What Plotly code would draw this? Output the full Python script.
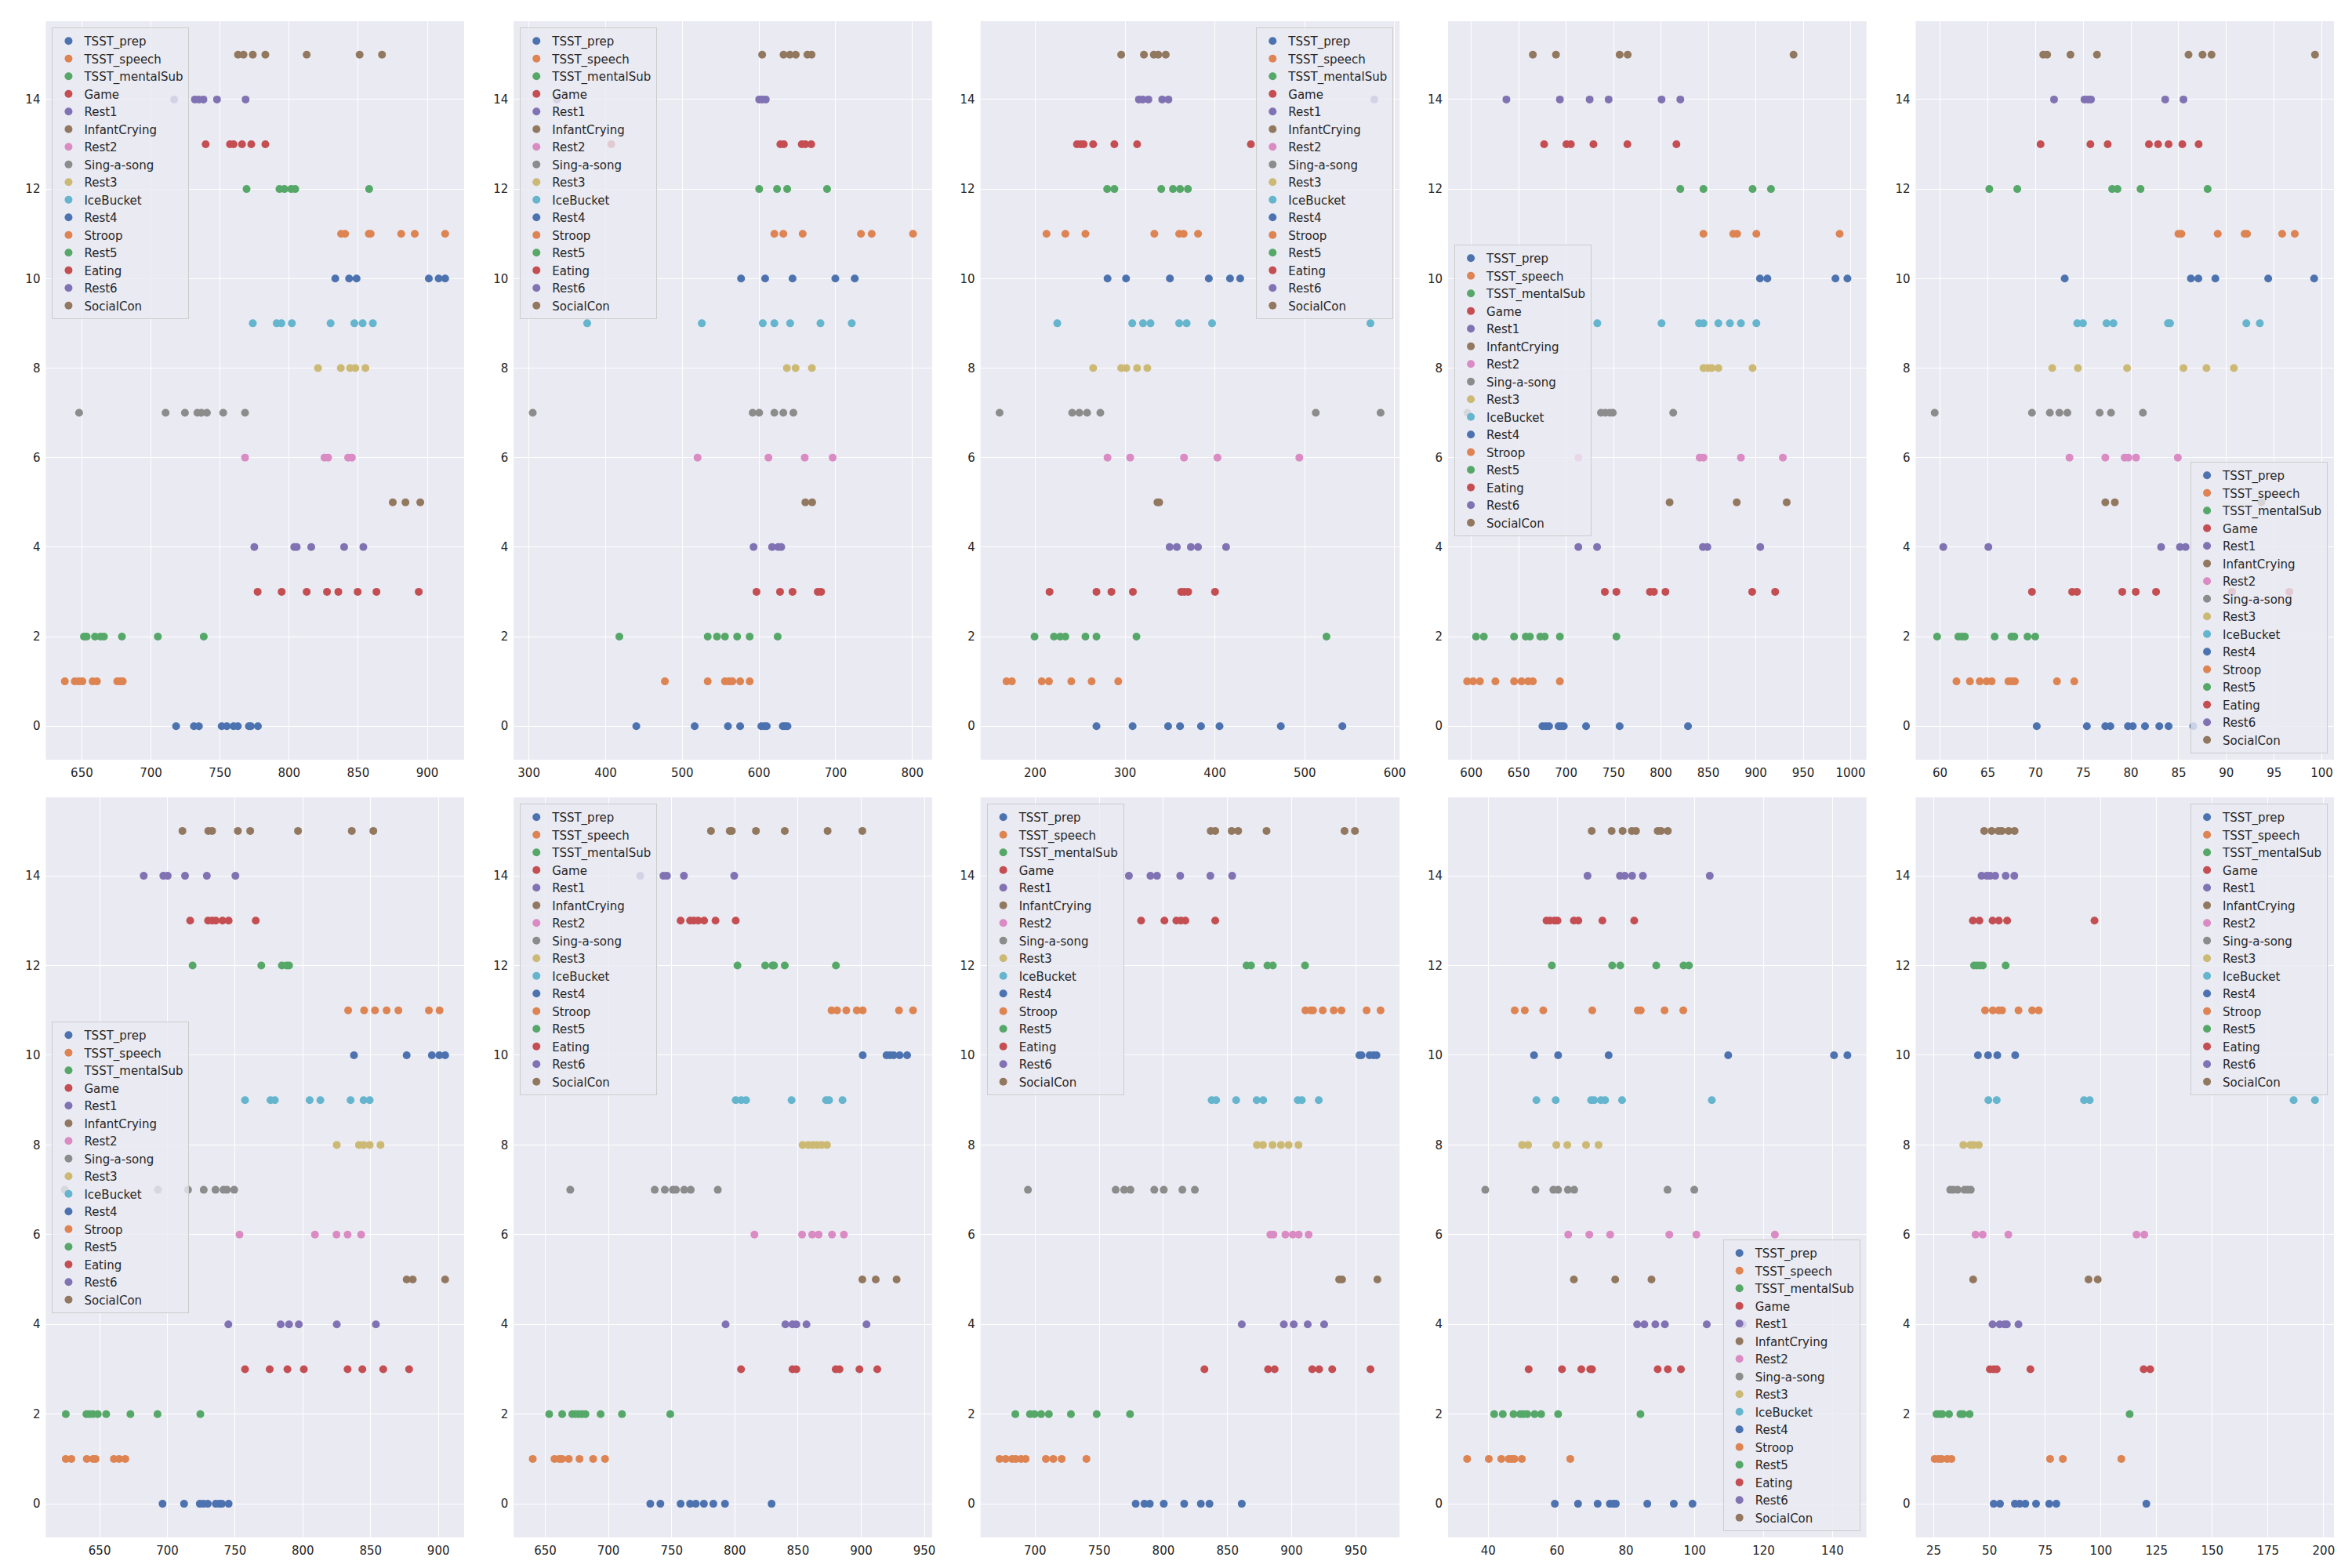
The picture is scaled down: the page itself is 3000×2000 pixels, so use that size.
import plotly.graph_objects as go
from plotly.subplots import make_subplots

categories = ['TSST_prep', 'TSST_speech', 'TSST_mentalSub', 'Game', 'Rest1', 'InfantCrying',
              'Rest2', 'Sing-a-song', 'Rest3', 'IceBucket', 'Rest4', 'Stroop', 'Rest5',
              'Eating', 'Rest6', 'SocialCon']

# one list of x values per category (y = category index), one panel per participant
panel1 = [
    [718.2, 731.1, 734.7, 751.2, 754.9, 759.8, 762.9, 770.9, 772.3, 777.4],
    [637.7, 644.9, 647.8, 650.4, 657.8, 660.9, 675.6, 677.8, 679.6],
    [651.5, 653.5, 659.5, 663.5, 666.0, 679.0, 705.0, 738.2],
    [777.2, 794.6, 812.7, 827.4, 835.6, 849.6, 863.2, 893.8],
    [774.8, 803.7, 805.5, 816.0, 839.8, 853.7],
    [875.0, 884.2, 894.9],
    [768.1, 825.6, 828.2, 842.7, 845.4],
    [648.0, 710.6, 724.6, 733.6, 736.5, 740.5, 752.3, 768.1],
    [820.9, 837.4, 844.1, 847.9, 855.2],
    [773.7, 791.0, 794.4, 802.0, 830.0, 847.2, 853.2, 860.6],
    [833.4, 843.4, 848.8, 901.1, 908.2, 912.9],
    [837.6, 840.5, 857.7, 859.0, 881.1, 890.9, 912.9],
    [769.2, 793.0, 796.6, 801.5, 804.4, 857.9],
    [739.6, 757.2, 759.8, 765.9, 772.6, 782.8],
    [716.8, 731.8, 734.7, 738.0, 747.8, 768.5],
    [763.0, 767.0, 773.7, 782.8, 812.7, 851.0, 867.2],
]
panel2 = [
    [440.0, 516.1, 559.5, 575.4, 603.0, 607.0, 610.0, 631.0, 634.0, 637.1],
    [477.3, 533.1, 555.6, 560.7, 565.3, 575.4, 587.8],
    [417.9, 533.1, 545.2, 555.6, 571.5, 587.8, 624.3],
    [596.7, 627.4, 643.7, 676.6, 680.9],
    [592.9, 617.0, 625.0, 629.0],
    [660.4, 669.3],
    [519.9, 612.3, 659.6, 696.0],
    [305.0, 591.7, 600.2, 620.0, 631.7, 644.8],
    [636.3, 647.6, 668.9],
    [376.0, 525.4, 604.9, 620.0, 640.6, 680.1, 720.9],
    [576.6, 608.0, 643.7, 699.5, 724.8],
    [620.0, 631.7, 656.9, 732.9, 746.9, 800.8],
    [600.2, 623.5, 636.7, 688.7],
    [407.4, 627.8, 632.4, 655.7, 660.4, 668.1],
    [336.5, 600.2, 604.1, 608.8],
    [604.1, 632.0, 640.2, 647.9, 663.1, 668.5],
]
panel3 = [
    [268.2, 308.4, 347.9, 361.2, 384.5, 405.1, 473.3, 541.8],
    [168.1, 174.1, 207.3, 215.3, 240.2, 262.8, 292.4],
    [199.3, 220.9, 227.9, 233.6, 255.9, 268.2, 312.7, 524.1],
    [216.0, 268.2, 284.8, 308.7, 362.5, 366.0, 370.2, 400.1],
    [349.6, 357.6, 373.2, 381.2, 412.4],
    [336.0, 338.0],
    [280.5, 305.7, 365.6, 402.8, 493.9],
    [160.4, 241.2, 249.2, 257.8, 272.5, 512.2, 584.3],
    [264.5, 295.7, 301.4, 313.4, 324.7],
    [224.6, 308.0, 320.0, 328.3, 360.2, 368.5, 396.8, 573.0],
    [280.5, 301.1, 349.9, 393.2, 416.8, 428.1],
    [212.6, 233.6, 255.9, 332.6, 360.2, 365.2, 381.2],
    [280.1, 288.1, 340.3, 353.3, 361.2, 369.9],
    [246.5, 250.5, 254.0, 264.5, 288.1, 313.4, 440.0],
    [315.4, 319.7, 326.0, 341.3, 348.3, 577.3],
    [295.7, 321.0, 332.0, 337.0, 345.3],
]
panel4 = [
    [675.0, 678.5, 682.0, 692.0, 695.0, 697.5, 721.0, 756.4, 828.5],
    [595.6, 601.9, 609.1, 625.4, 645.1, 653.0, 659.9, 664.9, 693.4],
    [605.0, 613.2, 645.1, 657.4, 661.8, 672.7, 677.4, 693.4, 753.0],
    [740.8, 753.0, 788.4, 792.5, 804.7, 896.2, 920.4],
    [712.9, 732.6, 844.2, 848.9, 904.7],
    [809.1, 879.9, 932.6],
    [712.9, 840.8, 844.8, 884.3, 928.5],
    [595.9, 736.7, 741.4, 746.1, 749.2, 812.9],
    [844.8, 849.5, 853.5, 860.5, 896.6],
    [732.9, 800.6, 840.1, 844.8, 860.5, 872.7, 884.3, 900.6],
    [904.4, 912.2, 984.0, 996.6],
    [844.8, 876.2, 880.3, 900.6, 988.4],
    [820.4, 844.8, 896.6, 916.0],
    [676.8, 700.3, 705.0, 728.8, 764.6, 816.3],
    [637.0, 693.4, 724.8, 744.8, 800.6, 820.4],
    [664.9, 689.3, 756.4, 764.9, 939.8],
]
panel5 = [
    [70.13, 75.38, 77.31, 77.84, 79.69, 80.19, 81.47, 82.97, 83.94, 86.53],
    [61.72, 63.13, 64.16, 64.88, 65.41, 67.16, 67.47, 67.84, 72.25, 74.06],
    [59.69, 61.91, 62.28, 62.6, 65.72, 67.47, 67.78, 69.16, 69.97],
    [69.63, 73.84, 74.34, 79.09, 80.5, 82.63, 90.59, 96.59],
    [60.34, 65.06, 83.16, 85.13, 85.72],
    [77.31, 78.31, 93.66],
    [73.56, 77.31, 79.34, 79.72, 80.53, 84.91],
    [59.44, 69.63, 71.5, 72.5, 73.34, 76.72, 77.91, 81.25],
    [71.75, 74.44, 79.59, 85.5, 87.91, 90.78],
    [74.38, 74.97, 77.44, 78.16, 83.88, 84.09, 92.09, 93.5],
    [73.06, 86.28, 87.06, 88.84, 94.38, 99.19],
    [84.97, 85.28, 89.09, 91.91, 92.16, 95.84, 97.16],
    [65.16, 68.09, 78.03, 78.59, 81.0, 88.03],
    [70.53, 75.75, 77.56, 81.88, 82.84, 83.94, 85.38, 87.09],
    [71.94, 75.13, 75.5, 75.81, 83.59, 85.5],
    [70.81, 71.22, 73.66, 76.44, 86.03, 87.5, 88.44, 99.28],
]
panel6 = [
    [696.4, 712.3, 723.9, 726.6, 729.8, 735.7, 738.4, 740.2, 745.2],
    [625.0, 629.1, 640.5, 645.2, 647.0, 660.5, 664.3, 668.9],
    [625.0, 640.2, 642.5, 645.0, 648.6, 654.8, 672.7, 692.7, 724.3],
    [757.3, 775.5, 788.6, 800.7, 833.0, 843.9, 859.3, 878.4],
    [745.0, 783.6, 789.8, 797.0, 825.0, 853.9],
    [876.6, 881.1, 905.0],
    [753.2, 808.9, 824.8, 833.0, 843.0],
    [624.3, 693.0, 715.2, 726.8, 735.5, 741.4, 743.9, 749.3],
    [825.0, 841.4, 844.8, 849.3, 857.3],
    [757.3, 776.1, 779.3, 805.0, 812.9, 835.2, 844.8, 849.3],
    [837.7, 876.6, 895.2, 900.7, 905.0],
    [833.4, 845.2, 853.2, 861.8, 870.5, 893.0, 900.9],
    [718.6, 769.3, 784.5, 788.0, 789.8],
    [716.8, 730.0, 733.0, 735.7, 740.7, 745.2, 765.2],
    [682.5, 697.0, 700.2, 713.0, 729.1, 750.2],
    [711.1, 730.2, 733.0, 752.0, 761.1, 796.4, 836.1, 852.0],
]
panel7 = [
    [733.1, 741.1, 757.1, 764.6, 769.1, 775.5, 783.0, 792.2, 829.1],
    [640.1, 657.3, 661.1, 663.2, 668.6, 677.1, 687.9, 697.3],
    [653.1, 663.4, 671.4, 674.0, 676.5, 679.0, 681.8, 693.8, 710.7, 748.9],
    [804.9, 845.6, 848.7, 879.8, 882.8, 898.6, 912.7],
    [792.7, 840.0, 845.6, 848.7, 856.7, 904.2],
    [900.9, 911.5, 928.0],
    [815.5, 853.2, 861.2, 866.3, 876.9, 886.3],
    [669.8, 736.6, 744.6, 751.0, 753.4, 759.9, 765.1, 786.5],
    [853.6, 858.1, 861.6, 865.2, 868.7, 872.9],
    [800.7, 805.1, 808.9, 844.9, 872.2, 874.6, 885.2],
    [901.2, 920.0, 922.8, 925.7, 930.4, 936.3],
    [876.5, 880.9, 888.2, 896.5, 901.2, 929.9, 941.0],
    [802.1, 824.0, 829.8, 831.0, 839.5, 880.0],
    [757.1, 764.6, 767.5, 771.0, 775.7, 784.7, 800.7],
    [725.1, 743.5, 746.3, 759.7, 799.5],
    [781.1, 796.0, 797.6, 816.7, 839.5, 873.4, 900.9],
]
panel8 = [
    [778.4, 785.2, 789.4, 800.3, 816.2, 829.2, 835.9, 861.1],
    [672.3, 677.0, 682.1, 684.9, 689.1, 692.6, 708.4, 714.2, 720.7, 740.0],
    [684.6, 696.0, 699.5, 704.7, 710.7, 727.9, 748.0, 774.0],
    [832.0, 881.6, 886.7, 916.0, 921.4, 931.6, 961.4],
    [861.1, 893.9, 901.6, 912.5, 925.3],
    [937.0, 939.3, 966.8],
    [883.4, 885.8, 895.1, 900.9, 905.5, 913.2],
    [694.4, 762.8, 769.4, 774.3, 792.9, 800.3, 814.8, 824.5],
    [872.9, 877.6, 885.1, 891.6, 897.6, 905.3],
    [837.6, 841.1, 856.7, 872.7, 877.8, 904.8, 907.9, 921.1],
    [952.8, 954.4, 960.7, 963.7, 966.1],
    [910.7, 914.9, 916.7, 924.2, 932.8, 938.8, 958.4, 969.3],
    [864.8, 868.3, 881.1, 885.3, 910.4],
    [782.6, 800.8, 810.1, 813.6, 817.1, 840.4],
    [773.1, 789.9, 795.0, 813.1, 836.6, 853.6],
    [836.9, 840.4, 853.2, 858.3, 880.4, 941.2, 949.3],
]
panel9 = [
    [59.34, 66.08, 71.78, 75.32, 76.36, 77.05, 86.2, 93.89, 99.33],
    [33.87, 40.17, 43.8, 45.96, 46.8, 47.6, 49.76, 63.83],
    [41.73, 44.23, 47.34, 49.3, 50.2, 51.31, 53.47, 55.37, 60.29, 84.21],
    [51.74, 61.42, 67.03, 69.62, 70.14, 89.22, 92.16, 95.96],
    [83.26, 85.34, 88.53, 91.3, 103.47, 113.92],
    [64.87, 76.87, 87.41],
    [63.23, 69.36, 75.41, 92.59, 100.45, 123.25],
    [39.14, 53.73, 58.91, 60.29, 63.14, 64.96, 92.07, 99.84],
    [49.84, 51.57, 59.78, 62.97, 68.41, 72.04],
    [53.99, 59.6, 69.88, 70.74, 72.73, 73.94, 78.86, 104.94],
    [53.3, 60.29, 74.97, 109.69, 140.43, 144.32],
    [47.69, 50.62, 55.98, 70.22, 83.44, 84.3, 91.21, 96.65],
    [58.48, 76.01, 78.34, 88.79, 96.74, 98.29],
    [56.93, 57.96, 59.26, 60.12, 64.87, 66.17, 73.16, 82.4],
    [68.84, 78.26, 79.64, 81.8, 84.91, 104.34],
    [70.05, 75.84, 79.03, 81.71, 82.92, 89.22, 90.17, 92.16],
]
panel10 = [
    [51.89, 54.7, 61.39, 63.53, 66.08, 70.89, 76.78, 79.99, 120.4],
    [25.4, 27.14, 28.48, 31.02, 32.89, 77.18, 82.93, 109.16],
    [26.2, 27.6, 28.8, 31.82, 36.91, 38.11, 41.06, 112.9],
    [50.15, 51.89, 53.23, 68.35, 119.2, 122.1],
    [51.36, 54.57, 56.71, 57.78, 63.0],
    [42.66, 94.44, 98.59],
    [43.73, 46.94, 58.45, 115.98, 119.46],
    [32.36, 33.7, 35.7, 38.78, 40.25, 41.59],
    [38.25, 41.46, 42.8, 45.2],
    [49.49, 53.23, 92.43, 94.98, 186.5, 196.1],
    [44.8, 49.35, 53.5, 61.53],
    [48.01, 51.49, 54.17, 55.64, 63.0, 69.15, 72.1],
    [43.06, 44.4, 45.7, 47.0, 57.25],
    [42.53, 45.47, 51.36, 54.17, 57.91, 97.12],
    [46.41, 48.82, 50.29, 52.56, 57.25, 61.13],
    [47.61, 50.96, 54.03, 55.51, 58.58, 61.26],
]

panels = [panel1, panel2, panel3, panel4, panel5, panel6, panel7, panel8, panel9, panel10]
x_dticks = [50, 100, 100, 50, 5, 50, 50, 50, 20, 25]
legend_locs = ['upper left', 'upper left', 'upper right', 'center left', 'lower right',
               'center left', 'upper left', 'upper left', 'lower right', 'upper right']

# seaborn "deep" palette
palette = ['#4C72B0', '#DD8452', '#55A868', '#C44E52', '#8172B3',
           '#937860', '#DA8BC3', '#8C8C8C', '#CCB974', '#64B5CD']

W, H = 3000, 2000
col_px = [(50.6, 585.6), (649.0, 1184.0), (1246.0, 1782.0), (1844.0, 2379.0), (2442.0, 2977.0)]
row_px = [(19.0, 961.0), (1009.0, 1953.0)]
FONT = 'DejaVu Sans'
TXT = '#262626'

fig = make_subplots(rows=2, cols=5)

layout = {}
for p, data in enumerate(panels):
    r, c = divmod(p, 5)
    idx = p + 1
    sfx = '' if idx == 1 else str(idx)
    leg = 'legend' + sfx
    for k, name in enumerate(categories):
        fig.add_trace(go.Scatter(
            x=data[k], y=[k] * len(data[k]), mode='markers', name=name,
            marker=dict(size=10, color=palette[k % 10], line=dict(width=0)),
            legend=leg, showlegend=True,
        ), row=r + 1, col=c + 1)

    allx = [v for s in data for v in s]
    lo, hi = min(allx), max(allx)
    pad = (hi - lo) * 0.05
    x0, x1 = col_px[c][0] / W, col_px[c][1] / W
    y0, y1 = 1 - row_px[r][1] / H, 1 - row_px[r][0] / H

    layout['xaxis' + sfx] = dict(domain=[x0, x1], range=[lo - pad, hi + pad], dtick=x_dticks[p],
                                 showgrid=True, gridcolor='white', gridwidth=1.4, zeroline=False,
                                 showline=False, ticks='', ticklabelstandoff=6,
                                 tickfont=dict(family=FONT, size=15, color=TXT))
    layout['yaxis' + sfx] = dict(domain=[y0, y1], range=[-0.75, 15.75], tick0=0, dtick=2,
                                 showgrid=True, gridcolor='white', gridwidth=1.4, zeroline=False,
                                 showline=False, ticks='', ticklabelstandoff=6,
                                 tickfont=dict(family=FONT, size=15, color=TXT))

    loc = legend_locs[p]
    dx, dy = 8 / W, 8 / H
    if loc == 'upper left':
        lx, ly, xa, ya = x0 + dx, y1 - dy, 'left', 'top'
    elif loc == 'upper right':
        lx, ly, xa, ya = x1 - dx, y1 - dy, 'right', 'top'
    elif loc == 'center left':
        lx, ly, xa, ya = x0 + dx, (y0 + y1) / 2, 'left', 'middle'
    else:
        lx, ly, xa, ya = x1 - dx, y0 + dy, 'right', 'bottom'
    layout[leg] = dict(x=lx, y=ly, xanchor=xa, yanchor=ya, xref='paper', yref='paper',
                       bgcolor='rgba(234,234,242,0.8)', bordercolor='#CCCCCC', borderwidth=1,
                       font=dict(family=FONT, size=15, color=TXT), itemwidth=30,
                       tracegroupgap=0)

fig.update_layout(**layout)
fig.update_layout(width=W, height=H, margin=dict(l=0, r=0, t=0, b=0),
                  paper_bgcolor='white', plot_bgcolor='#EAEAF2',
                  font=dict(family=FONT, size=15, color=TXT))

fig.write_html('out.html')
